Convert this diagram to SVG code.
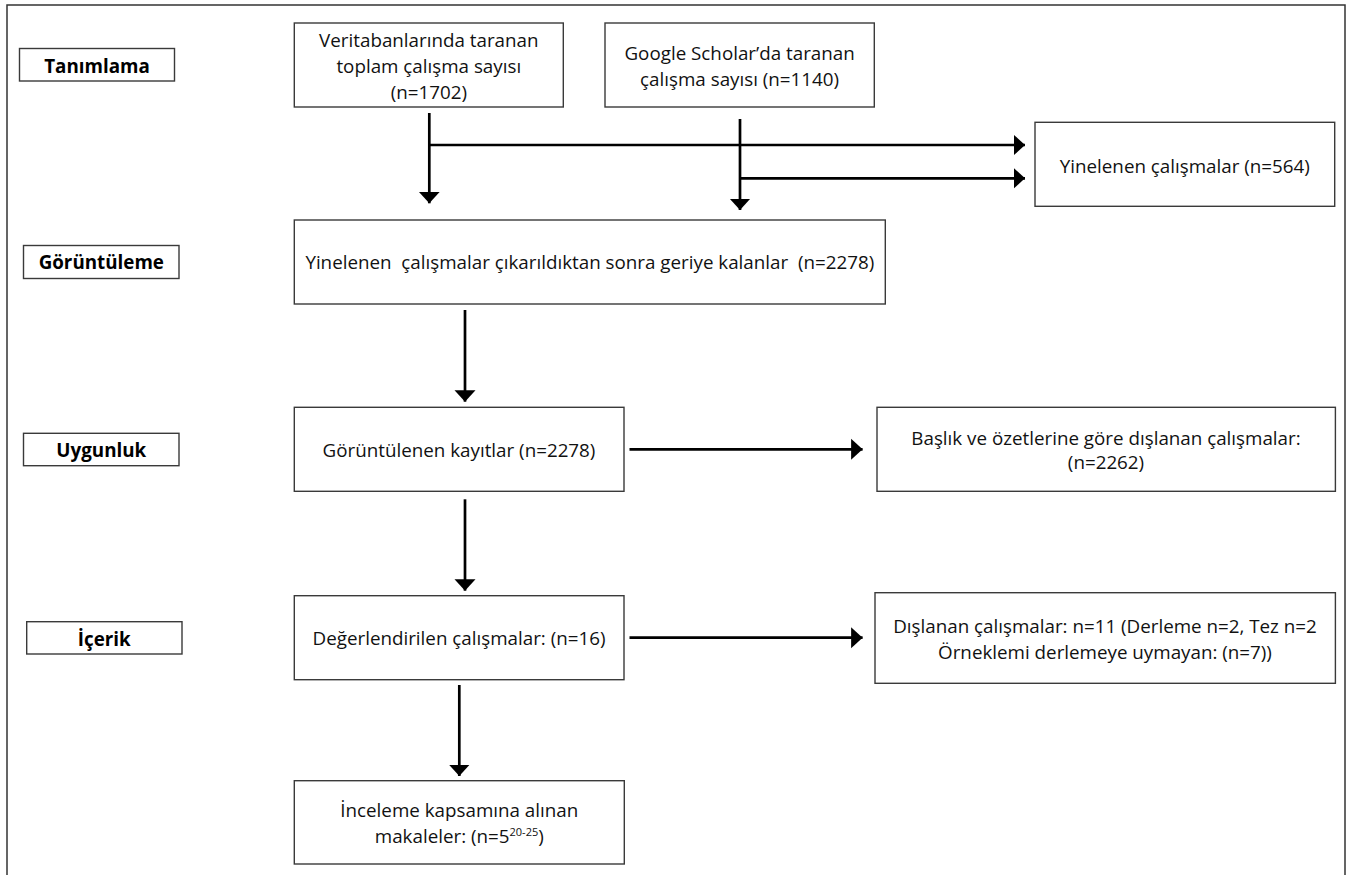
<svg xmlns="http://www.w3.org/2000/svg" width="1348" height="875" viewBox="0 0 1348 875">
<style>
  .box{fill:#fff;stroke:#3a3a3a;stroke-width:1.4}
  .t{font-family:"Open Sans","Noto Sans","Liberation Sans",sans-serif;font-size:18.8px;fill:#111;text-anchor:middle}
  .b{font-family:"Open Sans","Noto Sans","Liberation Sans",sans-serif;font-size:18.8px;font-weight:bold;fill:#000;text-anchor:middle}
  .c{fill:none;stroke:#000;stroke-width:2.7}
</style>
<defs>
  <marker id="ah" markerUnits="userSpaceOnUse" markerWidth="12" markerHeight="22" refX="11.5" refY="10.5" orient="auto" viewBox="0 0 12 21">
    <path d="M0,0 L11.5,10.5 L0,21 Z" fill="#000"/>
  </marker>
</defs>
<rect width="1348" height="875" fill="#fff"/>
<path d="M7,880 L7,5 L1345,5 L1345,880" fill="none" stroke="#333" stroke-width="1.5"/>

<g id="lbl-tanimlama"><rect class="box" x="19.5" y="48.5" width="155" height="32.5"/><text class="b" x="97" y="72.5">Tanımlama</text></g>
<g id="lbl-goruntuleme"><rect class="box" x="23.5" y="245.5" width="155.5" height="33"/><text class="b" x="101.3" y="269.3">Görüntüleme</text></g>
<g id="lbl-uygunluk"><rect class="box" x="23.5" y="433.3" width="155.5" height="32.4"/><text class="b" x="101.3" y="457.3">Uygunluk</text></g>
<g id="lbl-icerik"><rect class="box" x="26.7" y="621.7" width="155.3" height="32.3"/><text class="b" x="104.3" y="646">İçerik</text></g>

<g id="n-veritabani"><rect class="box" x="294.3" y="23" width="269" height="84"/>
  <text class="t" x="428.8" y="46.7">Veritabanlarında taranan</text>
  <text class="t" x="428.8" y="73.3">toplam çalışma sayısı</text>
  <text class="t" x="428.8" y="98.5">(n=1702)</text></g>
<g id="n-scholar"><rect class="box" x="605" y="23" width="269.3" height="84"/>
  <text class="t" x="739.6" y="60">Google Scholar’da taranan</text>
  <text class="t" x="739.6" y="86">çalışma sayısı (n=1140)</text></g>
<g id="n-yinelenen"><rect class="box" x="1035" y="122.3" width="299.7" height="84"/>
  <text class="t" x="1184.8" y="172.5">Yinelenen çalışmalar (n=564)</text></g>
<g id="n-kalan"><rect class="box" x="294.3" y="220" width="591" height="84"/>
  <text class="t" x="589.8" y="269.3" style="white-space:pre" xml:space="preserve">Yinelenen  çalışmalar çıkarıldıktan sonra geriye kalanlar  (n=2278)</text></g>
<g id="n-goruntulenen"><rect class="box" x="294.3" y="407.3" width="329.7" height="84"/>
  <text class="t" x="459" y="456.7">Görüntülenen kayıtlar (n=2278)</text></g>
<g id="n-baslik"><rect class="box" x="877" y="407.3" width="458.4" height="84"/>
  <text class="t" x="1106" y="445">Başlık ve özetlerine göre dışlanan çalışmalar:</text>
  <text class="t" x="1106" y="469.3">(n=2262)</text></g>
<g id="n-degerlendirilen"><rect class="box" x="294.3" y="595.7" width="329.7" height="84"/>
  <text class="t" x="459" y="645">Değerlendirilen çalışmalar: (n=16)</text></g>
<g id="n-dislanan"><rect class="box" x="875" y="592.7" width="460.4" height="90.6"/>
  <text class="t" x="1105" y="632.7">Dışlanan çalışmalar: n=11 (Derleme n=2, Tez n=2</text>
  <text class="t" x="1105" y="659.3">Örneklemi derlemeye uymayan: (n=7))</text></g>
<g id="n-inceleme"><rect class="box" x="294.3" y="780.7" width="330" height="83.3"/>
  <text class="t" x="459.3" y="816.7">İnceleme kapsamına alınan</text>
  <text class="t" x="459.3" y="842.7">makaleler: (n=5<tspan font-size="11" dy="-7">20-25</tspan><tspan dy="7">)</tspan></text></g>

<g id="connectors">
  <path class="c" d="M429.3,113 V203.3" marker-end="url(#ah)"/>
  <path class="c" d="M429.3,145 H1025" marker-end="url(#ah)"/>
  <path class="c" d="M740,119 V210" marker-end="url(#ah)"/>
  <path class="c" d="M740,178.3 H1025" marker-end="url(#ah)"/>
  <path class="c" d="M465,310 V401.7" marker-end="url(#ah)"/>
  <path class="c" d="M465,499.3 V590.7" marker-end="url(#ah)"/>
  <path class="c" d="M629.5,449.3 H862.6" marker-end="url(#ah)"/>
  <path class="c" d="M629.5,637.7 H862.6" marker-end="url(#ah)"/>
  <path class="c" d="M459.3,685 V776" marker-end="url(#ah)"/>
</g>
</svg>
